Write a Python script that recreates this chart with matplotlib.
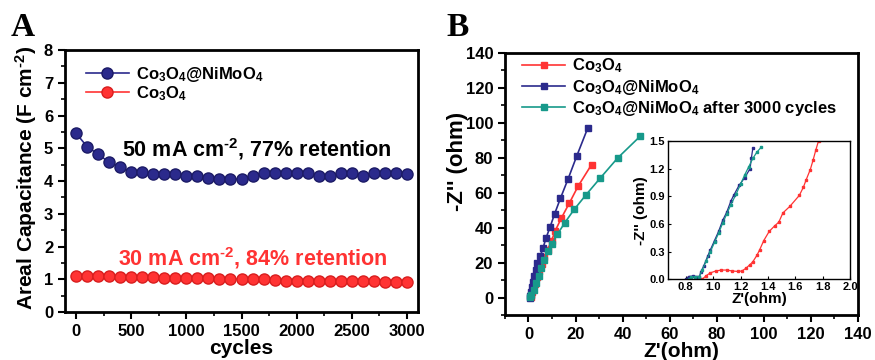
import matplotlib
matplotlib.use("Agg")
import matplotlib.pyplot as plt
from matplotlib.ticker import MultipleLocator, AutoMinorLocator

plt.rcParams["font.family"] = ["Liberation Sans", "DejaVu Sans"]
plt.rcParams["font.weight"] = "bold"
plt.rcParams["mathtext.default"] = "regular"

NAVY = "#2b2a8c"
RED = "#ff3333"
TEAL = "#17998a"
HYPH = "\u2010"

# panel A: cycling
cycles = list(range(0, 3001, 100))
cap_composite = [5.46, 5.05, 4.82, 4.57, 4.44, 4.27, 4.27, 4.20, 4.20, 4.20, 4.16,
                 4.16, 4.08, 4.06, 4.06, 4.06, 4.16, 4.23, 4.23, 4.23, 4.23, 4.23,
                 4.16, 4.16, 4.23, 4.23, 4.16, 4.23, 4.23, 4.23, 4.20]
cap_co3o4 = [1.10, 1.10, 1.10, 1.10, 1.07, 1.06, 1.06, 1.06, 1.04, 1.04, 1.04,
             1.04, 1.04, 1.01, 1.01, 1.01, 1.01, 1.01, 0.99, 0.95, 0.95, 0.95,
             0.95, 0.95, 0.95, 0.95, 0.95, 0.95, 0.93, 0.92, 0.92]

# panel B: Nyquist plots
zre_co3o4 = [0.95, 1.2, 1.6, 2.1, 2.9, 3.7, 4.6, 5.6, 6.7, 8.1, 9.8, 11.4, 14.0, 17.3, 21.1, 26.8]
zim_co3o4 = [0.5, 1.5, 2.9, 4.8, 7.7, 11.5, 15.3, 19.2, 23.0, 27.4, 32.6, 38.3, 45.6, 53.9, 63.8, 76.1]
zre_comp = [0.8, 0.8, 0.9, 1.3, 1.8, 2.4, 3.0, 3.8, 5.0, 6.2, 7.4, 9.1, 11.1, 13.6, 16.8, 20.5, 25.2]
zim_comp = [0.0, 1.0, 3.0, 6.0, 9.0, 12.5, 16.0, 19.8, 23.8, 28.4, 33.9, 40.1, 47.9, 56.9, 67.8, 81.0, 97.1]
zre_cycled = [0.5, 1.2, 2.2, 3.3, 4.4, 5.4, 6.7, 8.1, 10.0, 12.3, 15.4, 19.4, 24.5, 30.5, 37.9, 47.5]
zim_cycled = [0.1, 1.6, 4.4, 8.4, 12.5, 16.9, 21.5, 26.4, 30.7, 36.2, 42.8, 50.4, 58.9, 68.4, 79.9, 92.4]

# inset: high-frequency region
in_re_co3o4 = [0.92, 0.95, 0.98, 1.02, 1.06, 1.10, 1.14, 1.18, 1.21, 1.24, 1.27, 1.29, 1.32,
               1.34, 1.37, 1.41, 1.45, 1.48, 1.51, 1.56, 1.63, 1.66, 1.68, 1.71, 1.73, 1.75, 1.77]
in_im_co3o4 = [0.0, 0.04, 0.07, 0.09, 0.10, 0.10, 0.09, 0.085, 0.09, 0.12, 0.16, 0.19, 0.26,
               0.32, 0.42, 0.52, 0.58, 0.62, 0.72, 0.79, 0.91, 1.0, 1.08, 1.19, 1.29, 1.40, 1.50]
in_re_comp = [0.80, 0.82, 0.85, 0.88, 0.90, 0.91, 0.93, 0.96, 0.98, 1.01, 1.04, 1.07, 1.10,
              1.13, 1.15, 1.19, 1.23, 1.27, 1.28, 1.29]
in_im_comp = [0.0, 0.03, 0.035, 0.03, 0.03, 0.08, 0.14, 0.25, 0.32, 0.42, 0.52, 0.64, 0.73,
              0.85, 0.91, 1.02, 1.10, 1.20, 1.32, 1.42]
in_re_cycled = [0.82, 0.84, 0.87, 0.90, 0.92, 0.95, 0.98, 1.01, 1.04, 1.07, 1.10, 1.13, 1.17,
                1.20, 1.23, 1.26, 1.29, 1.32, 1.35]
in_im_cycled = [0.0, 0.02, 0.03, 0.03, 0.10, 0.20, 0.30, 0.40, 0.50, 0.61, 0.71, 0.81, 0.93,
                1.03, 1.13, 1.22, 1.31, 1.38, 1.43]


def style_axes(ax, lw=2.0, size=12):
    for s in ax.spines.values():
        s.set_linewidth(lw)
    ax.tick_params(which="major", direction="out", length=5, width=1.5, labelsize=size,
                   top=False, right=False)
    ax.tick_params(which="minor", direction="out", length=3, width=1.2, top=False, right=False)
    for lab in ax.get_xticklabels() + ax.get_yticklabels():
        lab.set_fontweight("bold")


fig = plt.figure(figsize=(8.75, 3.6), dpi=100)

axA = fig.add_axes([0.0743, 0.1333, 0.4034, 0.7278])
axA.plot(cycles, cap_composite, "-o", color=NAVY, mfc=NAVY, mec="#1c1b66", ms=8, lw=1.2,
         label="Co$_3$O$_4$@NiMoO$_4$")
axA.plot(cycles, cap_co3o4, "-o", color=RED, mfc=RED, mec="#d81e1e", ms=8, lw=1.2,
         label="Co$_3$O$_4$")
axA.set_xlim(-100, 3100)
axA.set_ylim(0, 8)
axA.xaxis.set_major_locator(MultipleLocator(500))
axA.xaxis.set_minor_locator(AutoMinorLocator(2))
axA.yaxis.set_major_locator(MultipleLocator(1))
axA.yaxis.set_minor_locator(AutoMinorLocator(2))
style_axes(axA)
axA.set_xlabel("cycles", fontsize=15, fontweight="bold", labelpad=0)
axA.set_ylabel(f"Areal Capacitance (F cm$^{{{HYPH}2}}$)", fontsize=15, fontweight="bold")
axA.yaxis.set_label_coords(-0.075, 0.51)
axA.text(0.161, 0.592, f"50 mA cm$^{{{HYPH}2}}$, 77% retention", transform=axA.transAxes,
         fontsize=15.5, fontweight="bold", color="black")
axA.text(0.150, 0.179, f"30 mA cm$^{{{HYPH}2}}$, 84% retention", transform=axA.transAxes,
         fontsize=15.5, fontweight="bold", color=RED)
axA.legend(loc="upper left", bbox_to_anchor=(0.03, 0.98), frameon=False,
           handlelength=2.6, borderaxespad=0.2, labelspacing=0.0, handletextpad=0.4,
           prop={"weight": "bold", "size": 12})
fig.text(0.012, 0.9, "A", family="Liberation Serif", fontsize=24, fontweight="bold")

axB = fig.add_axes([0.5771, 0.125, 0.4034, 0.7278])
axB.plot(zre_co3o4, zim_co3o4, "-s", color=RED, ms=4.5, lw=1.2, label="Co$_3$O$_4$")
axB.plot(zre_comp, zim_comp, "-s", color=NAVY, ms=4.5, lw=1.2, label="Co$_3$O$_4$@NiMoO$_4$")
axB.plot(zre_cycled, zim_cycled, "-s", color=TEAL, ms=4.5, lw=1.2,
         label="Co$_3$O$_4$@NiMoO$_4$ after 3000 cycles")
axB.set_xlim(-10, 140)
axB.set_ylim(-10, 140)
axB.xaxis.set_major_locator(MultipleLocator(20))
axB.xaxis.set_minor_locator(AutoMinorLocator(2))
axB.yaxis.set_major_locator(MultipleLocator(20))
axB.yaxis.set_minor_locator(AutoMinorLocator(2))
style_axes(axB)
axB.set_xlabel("Z'(ohm)", fontsize=15, fontweight="bold", labelpad=0)
axB.set_ylabel("-Z'' (ohm)", fontsize=16, fontweight="bold")
axB.yaxis.set_label_coords(-0.105, 0.585)
axB.legend(loc="upper left", bbox_to_anchor=(0.02, 1.025), frameon=False,
           handlelength=2.6, borderaxespad=0.2, labelspacing=0.15, handletextpad=0.4,
           prop={"weight": "bold", "size": 12})
fig.text(0.51, 0.9, "B", family="Liberation Serif", fontsize=24, fontweight="bold")

axI = fig.add_axes([0.7634, 0.2242, 0.208, 0.3842])
axI.plot(in_re_co3o4, in_im_co3o4, "-s", color=RED, ms=1.8, lw=0.9)
axI.plot(in_re_comp, in_im_comp, "-s", color=NAVY, ms=1.8, lw=0.9)
axI.plot(in_re_cycled, in_im_cycled, "-s", color=TEAL, ms=1.8, lw=0.9)
axI.set_xlim(0.67, 2.0)
axI.set_ylim(0, 1.5)
axI.xaxis.set_major_locator(MultipleLocator(0.2))
axI.yaxis.set_major_locator(MultipleLocator(0.3))
axI.xaxis.set_major_formatter(plt.FormatStrFormatter("%.1f"))
axI.yaxis.set_major_formatter(plt.FormatStrFormatter("%.1f"))
for s in axI.spines.values():
    s.set_linewidth(1.0)
axI.tick_params(direction="in", length=2, width=0.8, labelsize=8, pad=2)
for lab in axI.get_xticklabels() + axI.get_yticklabels():
    lab.set_fontweight("bold")
axI.set_xlabel("Z'(ohm)", fontsize=11, fontweight="bold", labelpad=0)
axI.set_ylabel("-Z'' (ohm)", fontsize=11, fontweight="bold", labelpad=1)

fig.savefig("out.png", dpi=100)
